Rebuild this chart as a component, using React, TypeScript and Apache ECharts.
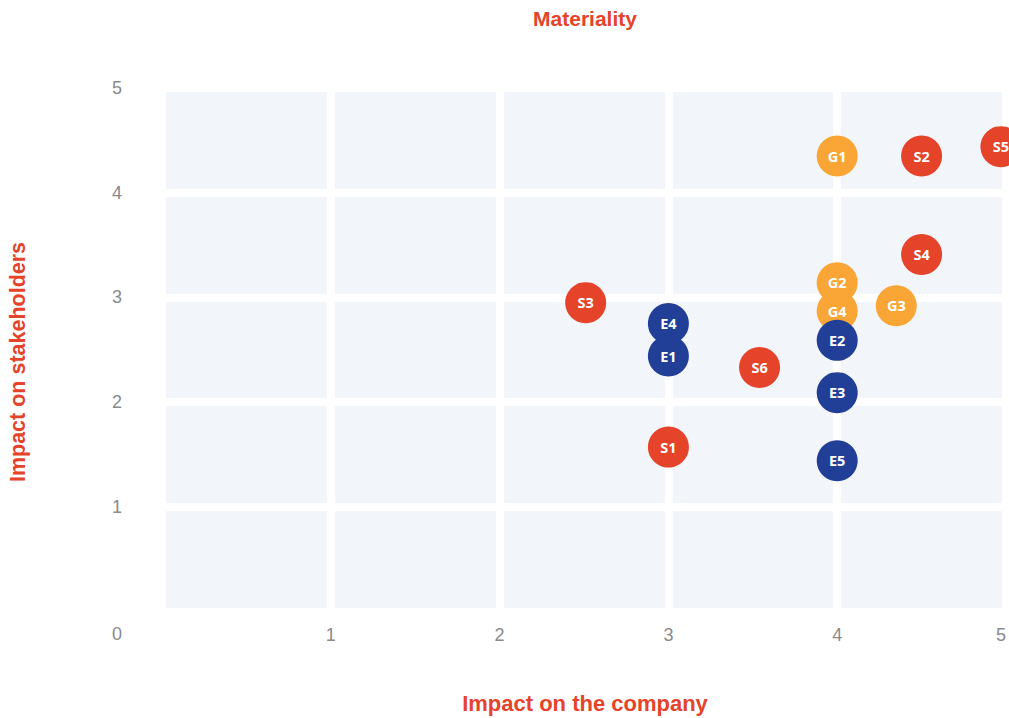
import React, { useEffect, useRef } from "react";
import * as echarts from "echarts";

const xTicks = [0, 1, 2, 3, 4, 5];
const yTicks = [0, 1, 2, 3, 4, 5];

const envLabels = ["E4", "E1", "E2", "E3", "E5"];
const envX = [3, 3, 4, 4, 4];
const envY = [2.75, 2.44, 2.59, 2.09, 1.44];

const socLabels = ["S3", "S6", "S1", "S4", "S2", "S5"];
const socX = [2.51, 3.54, 3, 4.5, 4.5, 4.97];
const socY = [2.95, 2.33, 1.57, 3.41, 4.35, 4.44];

const govLabels = ["G1", "G2", "G4", "G3"];
const govX = [4, 4, 4, 4.35];
const govY = [4.35, 3.14, 2.87, 2.92];

const RED = "#E5432A";

function pts(labels: string[], xs: number[], ys: number[]) {
  return labels.map((l, i) => ({ name: l, value: [xs[i], ys[i]] }));
}

export default function App() {
  const ref = useRef<HTMLDivElement>(null);
  useEffect(() => {
    if (!ref.current) return;
    const chart = echarts.init(ref.current, null, { renderer: "svg" });
    const label = {
      show: true,
      position: "inside",
      formatter: "{b}",
      color: "#ffffff",
      fontFamily: "Open Sans",
      fontWeight: "bold",
      fontSize: 14.5,
    };
    const mk = (name: string, color: string, data: any[]) => ({
      name,
      type: "scatter",
      symbolSize: 41,
      itemStyle: { color, opacity: 1 },
      label,
      data,
    });
    chart.setOption({
      animation: false,
      backgroundColor: "#ffffff",
      grid: {
        left: 162,
        top: 88,
        width: 845,
        height: 523.5,
        show: true,
        backgroundColor: "#F2F5F9",
        borderWidth: 0,
      },
      xAxis: {
        type: "value",
        min: xTicks[0],
        max: xTicks[xTicks.length - 1],
        interval: 1,
        axisLine: { show: false },
        axisTick: { show: false },
        splitLine: { show: true, lineStyle: { color: "#ffffff", width: 8 } },
        axisLabel: {
          color: "#8a8a8a",
          fontSize: 18,
          fontFamily: "Liberation Sans",
          margin: 14,
          alignMaxLabel: "right",
          formatter: (v: number) => (v === 0 ? "" : String(v)),
        },
      },
      yAxis: {
        type: "value",
        min: yTicks[0],
        max: yTicks[yTicks.length - 1],
        interval: 1,
        axisLine: { show: false },
        axisTick: { show: false },
        splitLine: { show: true, lineStyle: { color: "#ffffff", width: 8 } },
        axisLabel: {
          color: "#8a8a8a",
          fontSize: 18,
          fontFamily: "Liberation Sans",
          margin: 40,
          formatter: (v: number) => (v === 0 ? "" : String(v)),
        },
      },
      graphic: [
        {
          type: "text",
          x: 585,
          y: 18,
          style: {
            text: "Materiality",
            fill: RED,
            font: "bold 21px 'Liberation Sans'",
            align: "center",
            verticalAlign: "middle",
          },
        },
        {
          type: "text",
          x: 585,
          y: 703,
          style: {
            text: "Impact on the company",
            fill: RED,
            font: "bold 22px 'Liberation Sans'",
            align: "center",
            verticalAlign: "middle",
          },
        },
        {
          type: "text",
          x: 18,
          y: 362,
          rotation: Math.PI / 2,
          style: {
            text: "Impact on stakeholders",
            fill: RED,
            font: "bold 21.5px 'Liberation Sans'",
            align: "center",
            verticalAlign: "middle",
          },
        },
        {
          type: "text",
          x: 117,
          y: 634,
          style: {
            text: "0",
            fill: "#8a8a8a",
            font: "18px 'Liberation Sans'",
            align: "center",
            verticalAlign: "middle",
          },
        },
      ],
      series: [
        mk("Social", RED, pts(socLabels, socX, socY)),
        mk("Governance", "#F9A637", pts(govLabels, govX, govY)),
        mk("Environment", "#223F98", pts(envLabels, envX, envY)),
      ],
    });
    return () => chart.dispose();
  }, []);
  return (
    <div
      ref={ref}
      style={{ position: "fixed", left: 0, top: 0, width: 1009, height: 718 }}
    />
  );
}
